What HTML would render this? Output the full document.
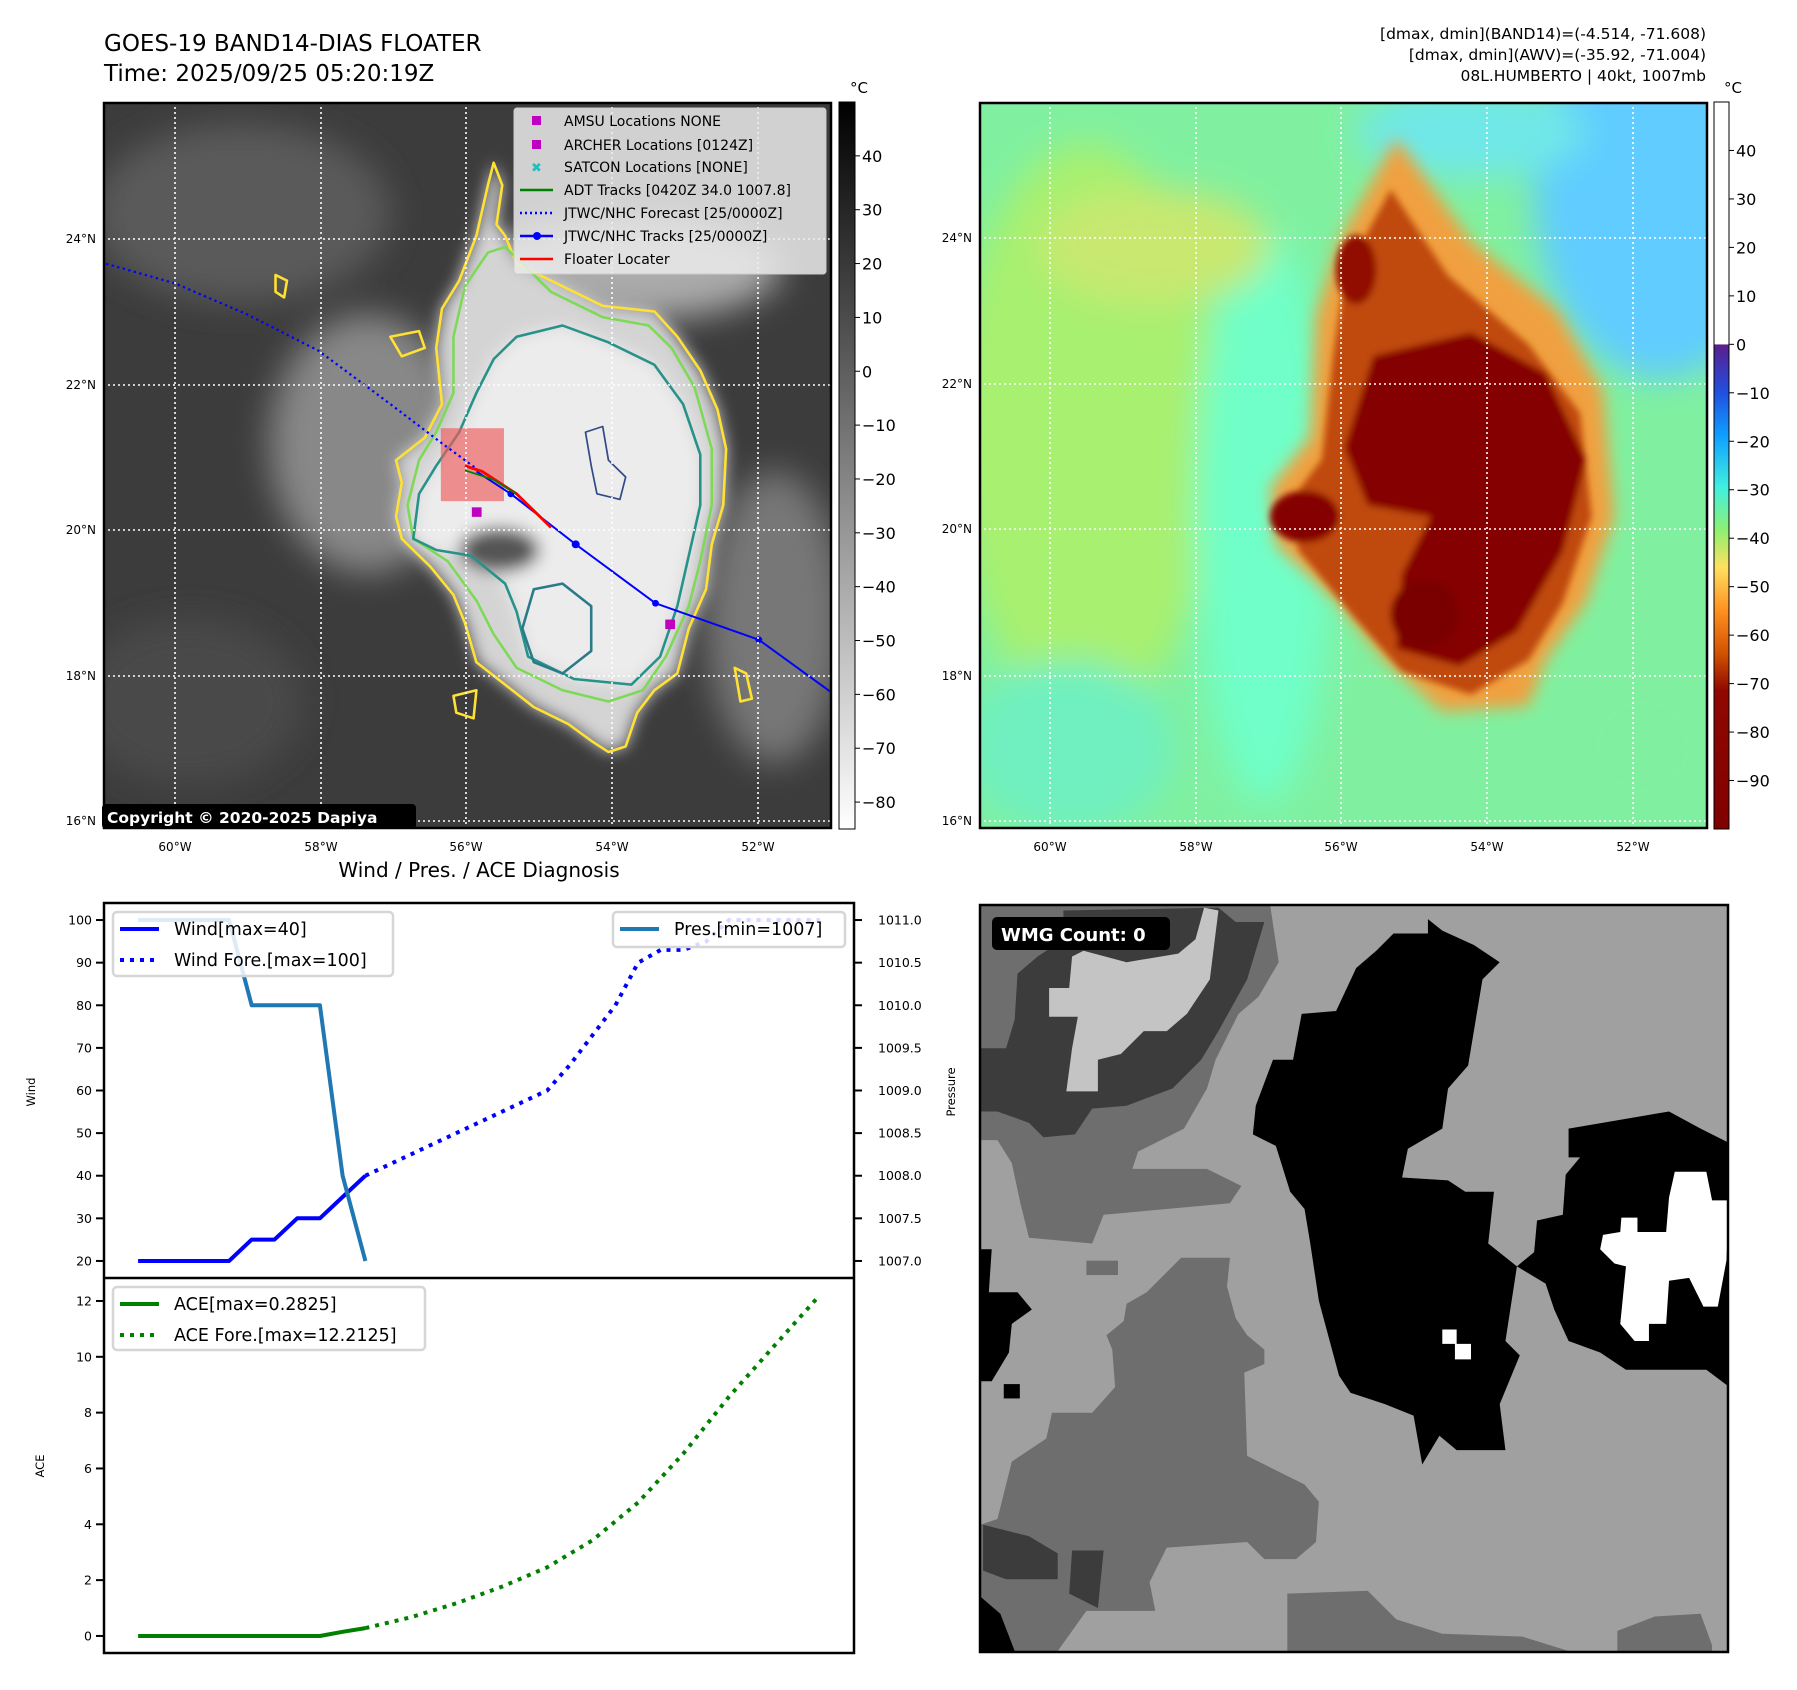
<!DOCTYPE html>
<html><head><meta charset="utf-8">
<style>
html,body{margin:0;padding:0;background:#fff;}
svg{display:block;font-family:"DejaVu Sans","Liberation Sans",sans-serif;}
</style></head>
<body>
<svg id="fig" width="1797" height="1690" viewBox="0 0 1797 1690" xmlns="http://www.w3.org/2000/svg">
<defs>
  <filter id="blur6" x="-20%" y="-20%" width="140%" height="140%"><feGaussianBlur stdDeviation="6"/></filter>
  <filter id="blur12" x="-20%" y="-20%" width="140%" height="140%"><feGaussianBlur stdDeviation="14"/></filter>
  <filter id="blur25" x="-30%" y="-30%" width="160%" height="160%"><feGaussianBlur stdDeviation="30"/></filter>
  <clipPath id="clipL"><rect x="103" y="102" width="729" height="727"/></clipPath>
  <clipPath id="clipR"><rect x="979" y="102" width="729" height="727"/></clipPath>
  <clipPath id="clipW"><rect x="979" y="904" width="750" height="749"/></clipPath>
  <clipPath id="clipTop"><rect x="104" y="903" width="750" height="375"/></clipPath>
  <clipPath id="clipBot"><rect x="104" y="1278" width="750" height="375"/></clipPath>
  <linearGradient id="cbL" x1="0" y1="0" x2="0" y2="1">
    <stop offset="0" stop-color="#000"/><stop offset="1" stop-color="#fff"/>
  </linearGradient>
  <linearGradient id="cbR" x1="0" y1="0" x2="0" y2="1">
    <stop offset="0" stop-color="#fff"/><stop offset="0.333" stop-color="#fff"/>
    <stop offset="0.334" stop-color="#5a1e8c"/>
    <stop offset="0.40" stop-color="#2050e0"/>
    <stop offset="0.46" stop-color="#10a0ff"/>
    <stop offset="0.53" stop-color="#40f0e0"/>
    <stop offset="0.59" stop-color="#90f070"/>
    <stop offset="0.64" stop-color="#ffe060"/>
    <stop offset="0.70" stop-color="#ff9020"/>
    <stop offset="0.76" stop-color="#d05000"/>
    <stop offset="0.81" stop-color="#900800"/>
    <stop offset="1" stop-color="#800000"/>
  </linearGradient>
</defs>

<text x="104" y="51" font-size="23" fill="#000">GOES-19 BAND14-DIAS FLOATER</text>
<text x="104" y="81" font-size="23" fill="#000">Time: 2025/09/25 05:20:19Z</text>
<g font-size="15.5" fill="#000" text-anchor="end">
  <text x="1706" y="39">[dmax, dmin](BAND14)=(-4.514, -71.608)</text>
  <text x="1706" y="60">[dmax, dmin](AWV)=(-35.92, -71.004)</text>
  <text x="1706" y="81">08L.HUMBERTO | 40kt, 1007mb</text>
</g>

<!-- LEFT MAP -->
<g>
<g clip-path="url(#clipL)">
  <rect x="103" y="102" width="729" height="727" fill="#3c3c3c"/>
  <g transform="scale(0.574,0.5612)">
    <g filter="url(#blur25)">
      <ellipse cx="420" cy="380" rx="260" ry="160" fill="#5a5a5a"/>
      <ellipse cx="640" cy="790" rx="170" ry="230" fill="#888"/>
      <ellipse cx="1350" cy="1100" rx="120" ry="260" fill="#777"/>
      <ellipse cx="1100" cy="480" rx="260" ry="90" fill="#aaa"/>
      <ellipse cx="330" cy="1250" rx="200" ry="150" fill="#4a4a4a"/>
    </g>
    <g filter="url(#blur12)">
      <polygon fill="#d4d4d4" points="860,290 875,330 865,400 880,420 900,470 960,500 1050,545 1140,555 1180,600 1220,660 1250,730 1265,800 1260,900 1240,970 1230,1050 1200,1120 1180,1200 1140,1230 1110,1270 1090,1330 1060,1340 1030,1320 990,1290 930,1260 880,1220 830,1180 810,1110 790,1060 750,1010 700,960 690,920 700,860 690,820 740,780 770,720 760,620 770,550 800,500 830,420 850,330"/>
      <polygon fill="#ececec" points="900,600 980,580 1060,610 1140,650 1190,720 1220,810 1220,900 1200,990 1180,1080 1150,1170 1100,1220 1000,1210 920,1170 900,1090 880,1040 820,990 760,980 720,960 730,880 760,830 800,770 830,700 860,640"/>
      <ellipse cx="870" cy="980" rx="70" ry="40" fill="#555"/>
    </g>
    <g fill="none" stroke-width="4.5" stroke-linejoin="round">
      <polygon stroke="#ffe135" points="860,290 875,330 865,400 880,420 900,470 960,500 1050,545 1140,555 1180,600 1220,660 1250,730 1265,800 1260,900 1240,970 1230,1050 1200,1120 1180,1200 1140,1230 1110,1270 1090,1330 1060,1340 1030,1320 990,1290 930,1260 880,1220 830,1180 810,1110 790,1060 750,1010 700,960 690,920 700,860 690,820 740,780 770,720 760,620 770,550 800,500 830,420 850,330"/>
      <polygon stroke="#7ed957" points="880,440 960,520 1050,565 1130,580 1170,620 1210,690 1240,800 1240,900 1220,1000 1200,1080 1160,1170 1120,1230 1060,1250 980,1230 900,1190 860,1130 830,1070 780,1000 720,960 710,900 730,820 760,770 790,700 790,600 810,510 850,450"/>
      <polygon stroke="#26928a" points="900,600 980,580 1060,610 1140,650 1190,720 1220,810 1220,900 1200,990 1180,1080 1150,1170 1100,1220 1000,1210 920,1170 900,1090 880,1040 820,990 760,980 720,960 730,880 760,830 800,770 830,700 860,640"/>
      <polygon stroke="#2a7a8a" points="930,1050 980,1040 1030,1080 1030,1160 980,1200 930,1180 910,1120"/>
      <polygon stroke="#334a88" stroke-width="3" points="1020,770 1050,760 1060,820 1090,850 1080,890 1040,880 1030,830"/>
      <polygon stroke="#ffe135" points="680,600 730,590 740,620 700,635"/>
      <polygon stroke="#ffe135" points="480,490 500,500 495,530 480,520"/>
      <polygon stroke="#ffe135" points="790,1240 830,1230 825,1280 795,1270"/>
      <polygon stroke="#ffe135" points="1280,1190 1300,1200 1310,1245 1290,1250"/>
    </g>
    <rect x="768" y="763" width="110" height="130" fill="rgba(240,90,90,0.65)"/>
    <polyline fill="none" stroke="#0000ff" stroke-width="4" stroke-dasharray="4 6" points="185,470 305,505 430,560 555,625 680,720 770,790 830,835"/>
    <polyline fill="none" stroke="#0000ff" stroke-width="3.5" points="830,840 890,880 1003,970 1142,1075 1322,1140 1450,1235"/>
    <g fill="#0000ff"><circle cx="890" cy="880" r="6"/><circle cx="1003" cy="970" r="7"/><circle cx="1142" cy="1075" r="6"/><circle cx="1322" cy="1140" r="6"/></g>
    <polyline fill="none" stroke="#ff0000" stroke-width="5" points="810,830 840,840 900,880 960,940"/>
    <polyline fill="none" stroke="#008000" stroke-width="3" points="810,838 860,855 900,880"/>
    <rect x="822" y="904" width="17" height="17" fill="#c000c0"/>
    <rect x="1159" y="1104" width="17" height="17" fill="#c000c0"/>
  </g>
  <g stroke="#fff" stroke-width="1.6" stroke-dasharray="2 3">
    <line x1="175" y1="102" x2="175" y2="829"/><line x1="321" y1="102" x2="321" y2="829"/><line x1="466" y1="102" x2="466" y2="829"/><line x1="612" y1="102" x2="612" y2="829"/><line x1="758" y1="102" x2="758" y2="829"/>
    <line x1="103" y1="239" x2="832" y2="239"/><line x1="103" y1="385" x2="832" y2="385"/><line x1="103" y1="530" x2="832" y2="530"/><line x1="103" y1="676" x2="832" y2="676"/><line x1="103" y1="821" x2="832" y2="821"/>
  </g>
</g>
<rect x="104" y="103" width="727" height="725" fill="none" stroke="#000" stroke-width="2.5"/>
<g>
  <rect x="514" y="108" width="312" height="166" rx="3" fill="rgba(235,235,235,0.85)" stroke="#ccc"/>
  <g font-size="14" fill="#000">
    <rect x="532" y="116" width="9" height="9" fill="#c000c0"/><text x="564" y="126">AMSU Locations NONE</text>
    <rect x="532" y="140" width="9" height="9" fill="#c000c0"/><text x="564" y="150">ARCHER Locations [0124Z]</text>
    <text x="531" y="172" fill="#20c0c0" font-size="13" font-weight="bold">✖</text><text x="564" y="172">SATCON Locations [NONE]</text>
    <line x1="520" y1="190" x2="553" y2="190" stroke="#008000" stroke-width="2.5"/><text x="564" y="195">ADT Tracks [0420Z 34.0 1007.8]</text>
    <line x1="520" y1="213" x2="553" y2="213" stroke="#0000ff" stroke-width="2.5" stroke-dasharray="2 3"/><text x="564" y="218">JTWC/NHC Forecast [25/0000Z]</text>
    <line x1="520" y1="236" x2="553" y2="236" stroke="#0000ff" stroke-width="2.5"/><circle cx="537" cy="236" r="4" fill="#0000ff"/><text x="564" y="241">JTWC/NHC Tracks [25/0000Z]</text>
    <line x1="520" y1="259" x2="553" y2="259" stroke="#ff0000" stroke-width="2.5"/><text x="564" y="264">Floater Locater</text>
  </g>
</g>
<g>
  <rect x="102" y="804" width="314" height="25" rx="4" fill="#000"/>
  <text x="107" y="823" font-size="15.5" font-weight="bold" fill="#fff">Copyright © 2020-2025 Dapiya</text>
</g>
<g font-size="12" fill="#000">
  <g text-anchor="end"><text x="96" y="243">24°N</text><text x="96" y="389">22°N</text><text x="96" y="534">20°N</text><text x="96" y="680">18°N</text><text x="96" y="825">16°N</text></g>
  <g text-anchor="middle"><text x="175" y="851">60°W</text><text x="321" y="851">58°W</text><text x="466" y="851">56°W</text><text x="612" y="851">54°W</text><text x="758" y="851">52°W</text></g>
</g>
<g>
  <rect x="839" y="102" width="16" height="727" fill="url(#cbL)" stroke="#000" stroke-width="1"/>
  <text x="850" y="93" font-size="15">°C</text>
  <g id="cbLticks" font-size="16" fill="#000"></g>
</g>
</g>

<!-- RIGHT MAP -->
<g>
<g clip-path="url(#clipR)">
  <rect x="979" y="102" width="729" height="727" fill="#80f0a0"/>
  <g transform="translate(897,0) scale(0.574)">
    <g filter="url(#blur25)">
      <ellipse cx="330" cy="750" rx="230" ry="500" fill="#a8f070"/>
      <ellipse cx="640" cy="900" rx="120" ry="500" fill="#70ffc8"/>
      <ellipse cx="1330" cy="330" rx="220" ry="330" fill="#60ccff"/>
      <ellipse cx="1000" cy="230" rx="200" ry="80" fill="#70e8e8"/>
      <ellipse cx="1300" cy="1300" rx="150" ry="150" fill="#80f0a0"/>
      <ellipse cx="300" cy="1300" rx="180" ry="150" fill="#70f0c0"/>
      <ellipse cx="450" cy="430" rx="200" ry="100" fill="#c8e870"/>
    </g>
    <g filter="url(#blur12)">
      <polygon fill="#f0a040" points="770,420 870,240 1000,420 1150,540 1230,680 1250,900 1200,1050 1130,1150 1100,1230 950,1240 850,1150 770,1050 660,950 650,850 720,760 730,550"/>
    </g>
    <g filter="url(#blur6)">
      <polygon fill="#c04a08" points="780,480 860,330 960,480 1100,600 1190,720 1210,900 1160,1050 1100,1150 1000,1210 880,1170 800,1080 700,960 680,880 740,800 760,620"/>
      <polygon fill="#850000" points="830,620 1000,580 1130,650 1200,800 1160,960 1080,1100 980,1160 870,1130 880,1000 930,900 820,880 780,780"/>
      <ellipse cx="710" cy="900" rx="60" ry="45" fill="#850000"/>
      <ellipse cx="920" cy="1070" rx="60" ry="60" fill="#7a0000"/>
      <ellipse cx="800" cy="470" rx="35" ry="60" fill="#900c00"/>
    </g>
  </g>
  <g stroke="#fff" stroke-width="1.6" stroke-dasharray="2 3">
    <line x1="1050" y1="102" x2="1050" y2="829"/><line x1="1196" y1="102" x2="1196" y2="829"/><line x1="1341" y1="102" x2="1341" y2="829"/><line x1="1487" y1="102" x2="1487" y2="829"/><line x1="1633" y1="102" x2="1633" y2="829"/>
    <line x1="979" y1="238" x2="1708" y2="238"/><line x1="979" y1="384" x2="1708" y2="384"/><line x1="979" y1="529" x2="1708" y2="529"/><line x1="979" y1="676" x2="1708" y2="676"/><line x1="979" y1="821" x2="1708" y2="821"/>
  </g>
</g>
<rect x="980" y="103" width="727" height="725" fill="none" stroke="#000" stroke-width="2.5"/>
<g font-size="12" fill="#000">
  <g text-anchor="end"><text x="972" y="242">24°N</text><text x="972" y="388">22°N</text><text x="972" y="533">20°N</text><text x="972" y="680">18°N</text><text x="972" y="825">16°N</text></g>
  <g text-anchor="middle"><text x="1050" y="851">60°W</text><text x="1196" y="851">58°W</text><text x="1341" y="851">56°W</text><text x="1487" y="851">54°W</text><text x="1633" y="851">52°W</text></g>
</g>
<g>
  <rect x="1714" y="102" width="15" height="727" fill="url(#cbR)" stroke="#000" stroke-width="1"/>
  <text x="1724" y="93" font-size="15">°C</text>
  <g id="cbRticks" font-size="16" fill="#000"></g>
</g>
</g>

<!-- WMG PANEL -->
<g>
<g clip-path="url(#clipW)">
  <rect x="979" y="904" width="750" height="749" fill="#a0a0a0"/>
  <g transform="translate(897,790) scale(0.574)">
    <polygon fill="#6e6e6e" points="145,200 650,200 665,300 630,360 595,390 555,470 540,520 500,590 420,630 410,660 540,660 600,690 580,720 360,740 340,790 230,780 215,720 200,650 175,610 145,610"/>
    <polygon fill="#3c3c3c" points="145,450 190,450 205,400 210,320 245,290 290,260 290,210 560,205 590,230 640,230 610,330 560,420 530,470 480,520 400,550 340,555 310,600 255,605 230,580 175,560 145,560"/>
    <polygon fill="#c4c4c4" points="265,345 300,345 305,290 325,280 400,300 490,285 520,260 535,205 560,210 545,330 505,390 470,420 430,420 390,460 350,470 350,525 295,525 305,450 315,395 265,395"/>
    <polygon fill="#6e6e6e" points="495,815 580,815 575,865 590,920 610,950 640,975 640,1000 605,1015 610,1160 660,1185 710,1210 735,1240 730,1310 695,1340 640,1340 610,1310 470,1320 440,1380 450,1430 330,1430 280,1500 145,1500 145,1280 175,1270 200,1170 260,1130 270,1085 340,1085 380,1040 375,975 365,950 395,925 400,895 435,875 465,845"/>
    <polygon fill="#3c3c3c" points="150,1280 230,1300 280,1330 280,1375 190,1375 150,1360"/>
    <polygon fill="#3c3c3c" points="305,1325 360,1325 350,1425 300,1400"/>
    <polygon fill="#6e6e6e" points="680,1400 820,1395 870,1445 950,1470 1090,1475 1170,1500 680,1500"/>
    <polygon fill="#6e6e6e" points="1255,1465 1320,1440 1400,1435 1420,1490 1420,1500 1255,1500"/>
    <rect x="330" y="820" width="55" height="25" fill="#6e6e6e"/>
    <polygon fill="#000" points="925,225 950,245 1005,270 1050,300 1020,330 995,480 960,520 950,590 890,625 880,675 960,680 990,700 1040,700 1030,790 1080,830 1060,960 1085,985 1050,1070 1060,1150 975,1150 945,1125 915,1175 900,1090 850,1070 790,1050 770,1020 735,890 720,790 710,730 685,700 660,620 620,600 625,550 655,470 690,470 705,390 765,385 800,310 835,280 865,250 925,250"/>
    <polygon fill="#000" points="1170,590 1345,560 1400,590 1450,615 1450,1040 1410,1010 1270,1010 1225,980 1170,960 1145,905 1130,860 1080,830 1110,805 1115,750 1160,740 1165,670 1190,640 1170,640"/>
    <polygon fill="#fff" points="1355,665 1410,665 1420,715 1450,715 1445,820 1430,900 1405,900 1380,850 1345,855 1340,930 1310,930 1310,960 1285,960 1260,930 1270,830 1250,825 1225,800 1230,775 1260,770 1262,745 1290,745 1290,770 1340,770 1345,710"/>
    <polygon fill="#fff" points="950,940 975,940 975,965 1000,965 1000,992 972,992 972,965 950,965"/>
    <polygon fill="#000" points="145,800 165,800 160,875 210,875 235,905 200,930 195,980 165,1030 145,1030"/>
    <polygon fill="#000" points="145,1405 180,1435 205,1500 145,1500"/>
    <rect x="186" y="1035" width="28" height="25" fill="#000"/>
  </g>
</g>
<rect x="980" y="905" width="748" height="747" fill="none" stroke="#000" stroke-width="2.5"/>
<g>
  <rect x="992" y="917" width="178" height="33" rx="5" fill="#000"/>
  <text x="1001" y="941" font-size="18" font-weight="bold" fill="#fff">WMG Count: 0</text>
</g>
</g>

<text x="479" y="877" font-size="20" text-anchor="middle" fill="#000">Wind / Pres. / ACE Diagnosis</text>
<g id="diag"></g>

<script>
const windIdx = [0,1,2,3,4,5,6,7,8,9,10];
const windVals = [20,20,20,20,20,25,25,30,30,35,40];
const windForeIdx = [10,12,14,16,18,19,20,21,22,23,24,25,26,27,28,29,30];
const windForeVals = [40,45,50,55,60,66,73,80,90,93,93,95,100,100,100,100,100];
const presIdx = [0,1,2,3,4,5,6,7,8,9,10];
const presVals = [1011,1011,1011,1011,1011,1010,1010,1010,1010,1008,1007];
const presForeIdx = [26,27,28,29,30];
const presForeVals = [1011,1011,1011,1011,1011];
const aceIdx = [0,1,2,3,4,5,6,7,8,9,10];
const aceVals = [0,0,0,0,0,0,0,0,0,0.15,0.2825];
const aceForeIdx = [10,12,14,16,18,20,22,24,26,28,30];
const aceForeVals = [0.2825,0.67,1.17,1.76,2.46,3.43,4.78,6.54,8.57,10.4,12.2125];
const windTicks = [20,30,40,50,60,70,80,90,100];
const presTicks = [1007.0,1007.5,1008.0,1008.5,1009.0,1009.5,1010.0,1010.5,1011.0];
const aceTicks = [0,2,4,6,8,10,12];
const cbLTicks = [40,30,20,10,0,-10,-20,-30,-40,-50,-60,-70,-80];
const cbRTicks = [40,30,20,10,0,-10,-20,-30,-40,-50,-60,-70,-80,-90];

const NS = 'http://www.w3.org/2000/svg';
function mk(tag, attrs, parent){ const e=document.createElementNS(NS,tag); for(const k in attrs) e.setAttribute(k,attrs[k]); parent.appendChild(e); return e; }

const X0=104, X1=854, TOP=903, MID=1278, BOT=1653;
const xMin=-1.5, xMax=31.5;
function xs(i){ return X0 + (i-xMin)/(xMax-xMin)*(X1-X0); }
function wy(v){ return TOP + (104-v)/88*(MID-TOP); }
function py(p){ return TOP + (1011.2-p)/4.4*(MID-TOP); }
const aMin=-0.6106, aMax=12.8231;
function ay(a){ return MID + (aMax-a)/(aMax-aMin)*(BOT-MID); }
function pts(ix, vals, f){ return ix.map((i,k)=>xs(i).toFixed(1)+','+f(vals[k]).toFixed(1)).join(' '); }

const diagG = document.getElementById('diag');
const topG = mk('g',{'clip-path':'url(#clipTop)'},diagG);


let ln;
ln = mk('polyline',{points:pts(presForeIdx,presForeVals,py),fill:'none',stroke:'#c8c8ff','stroke-width':4,'stroke-dasharray':'4 6'},topG);


ln = mk('polyline',{points:pts(windForeIdx,windForeVals,wy),fill:'none',stroke:'#0000ff','stroke-width':4,'stroke-dasharray':'4 6'},topG);


ln = mk('polyline',{points:pts(windIdx,windVals,wy),fill:'none',stroke:'#0000ff','stroke-width':4,'stroke-linejoin':'round'},topG);


ln = mk('polyline',{points:pts(presIdx,presVals,py),fill:'none',stroke:'#1f77b4','stroke-width':4,'stroke-linejoin':'round'},topG);



const botG = mk('g',{'clip-path':'url(#clipBot)'},diagG);


ln = mk('polyline',{points:pts(aceForeIdx,aceForeVals,ay),fill:'none',stroke:'#008000','stroke-width':4,'stroke-dasharray':'4 6'},botG);


ln = mk('polyline',{points:pts(aceIdx,aceVals,ay),fill:'none',stroke:'#008000','stroke-width':4,'stroke-linejoin':'round'},botG);



mk('rect',{x:X0,y:TOP,width:X1-X0,height:BOT-TOP,fill:'none',stroke:'#000','stroke-width':2.5},diagG);
mk('line',{x1:X0,y1:MID,x2:X1,y2:MID,stroke:'#000','stroke-width':2.5},diagG);

windTicks.forEach(v=>{ const y=wy(v);
  mk('line',{x1:X0-8,y1:y,x2:X0,y2:y,stroke:'#000','stroke-width':2},diagG);
  const tx=mk('text',{x:X0-12,y:y+4.5,'font-size':12.5,'text-anchor':'end'},diagG); tx.textContent=v;
  
  
});
presTicks.forEach(v=>{ const y=py(v);
  mk('line',{x1:X1,y1:y,x2:X1+8,y2:y,stroke:'#000','stroke-width':2},diagG);
  const tx=mk('text',{x:X1+24,y:y+4.5,'font-size':12.5},diagG); tx.textContent=v.toFixed(1);
  
  
});
aceTicks.forEach(v=>{ const y=ay(v);
  mk('line',{x1:X0-8,y1:y,x2:X0,y2:y,stroke:'#000','stroke-width':2},diagG);
  const tx=mk('text',{x:X0-12,y:y+4.5,'font-size':12.5,'text-anchor':'end'},diagG); tx.textContent=v;
  
  
});
let tt;
tt=mk('text',{x:0,y:0,'font-size':11.5,'text-anchor':'middle',transform:'translate(35,1092) rotate(-90)'},diagG); tt.textContent='Wind';


tt=mk('text',{x:0,y:0,'font-size':11.5,'text-anchor':'middle',transform:'translate(44,1466) rotate(-90)'},diagG); tt.textContent='ACE';


tt=mk('text',{x:0,y:0,'font-size':11.5,'text-anchor':'middle',transform:'translate(955,1092) rotate(-90)'},diagG); tt.textContent='Pressure';



function legend(x,y,w,h,items,name){
  const lg=mk('g',{},diagG);
  
  
  mk('rect',{x:x,y:y,width:w,height:h,rx:4,fill:'rgba(255,255,255,0.85)',stroke:'#d6d6d6','stroke-width':2.5},lg);
  items.forEach((it,k)=>{ const yy=y+17+k*31;
    const a={x1:x+7,y1:yy,x2:x+46,y2:yy,stroke:it.c,'stroke-width':4}; if(it.d) a['stroke-dasharray']='4 6';
    mk('line',a,lg);
    const t2=mk('text',{x:x+61,y:yy+6,'font-size':17.5},lg); t2.textContent=it.t;
  });
}
legend(113,912,280,64,[{c:'#0000ff',t:'Wind[max=40]'},{c:'#0000ff',d:1,t:'Wind Fore.[max=100]'}],'wind-legend');
legend(613,912,232,35,[{c:'#1f77b4',t:'Pres.[min=1007]'}],'pressure-legend');
legend(113,1287,312,63,[{c:'#008000',t:'ACE[max=0.2825]'},{c:'#008000',d:1,t:'ACE Fore.[max=12.2125]'}],'ace-legend');

const cl=document.getElementById('cbLticks');
cbLTicks.forEach(v=>{ const y=102+(50-v)/135*727;
  mk('line',{x1:855,y1:y,x2:860,y2:y,stroke:'#000'},cl);
  const t3=mk('text',{x:862,y:y+6},cl); t3.textContent=(v<0?'\u2212'+(-v):v);
});
const cr=document.getElementById('cbRticks');
cbRTicks.forEach(v=>{ const y=102+(50-v)/150*727;
  mk('line',{x1:1729,y1:y,x2:1734,y2:y,stroke:'#000'},cr);
  const t3=mk('text',{x:1736,y:y+6},cr); t3.textContent=(v<0?'\u2212'+(-v):v);
});
</script>
</body></html>
